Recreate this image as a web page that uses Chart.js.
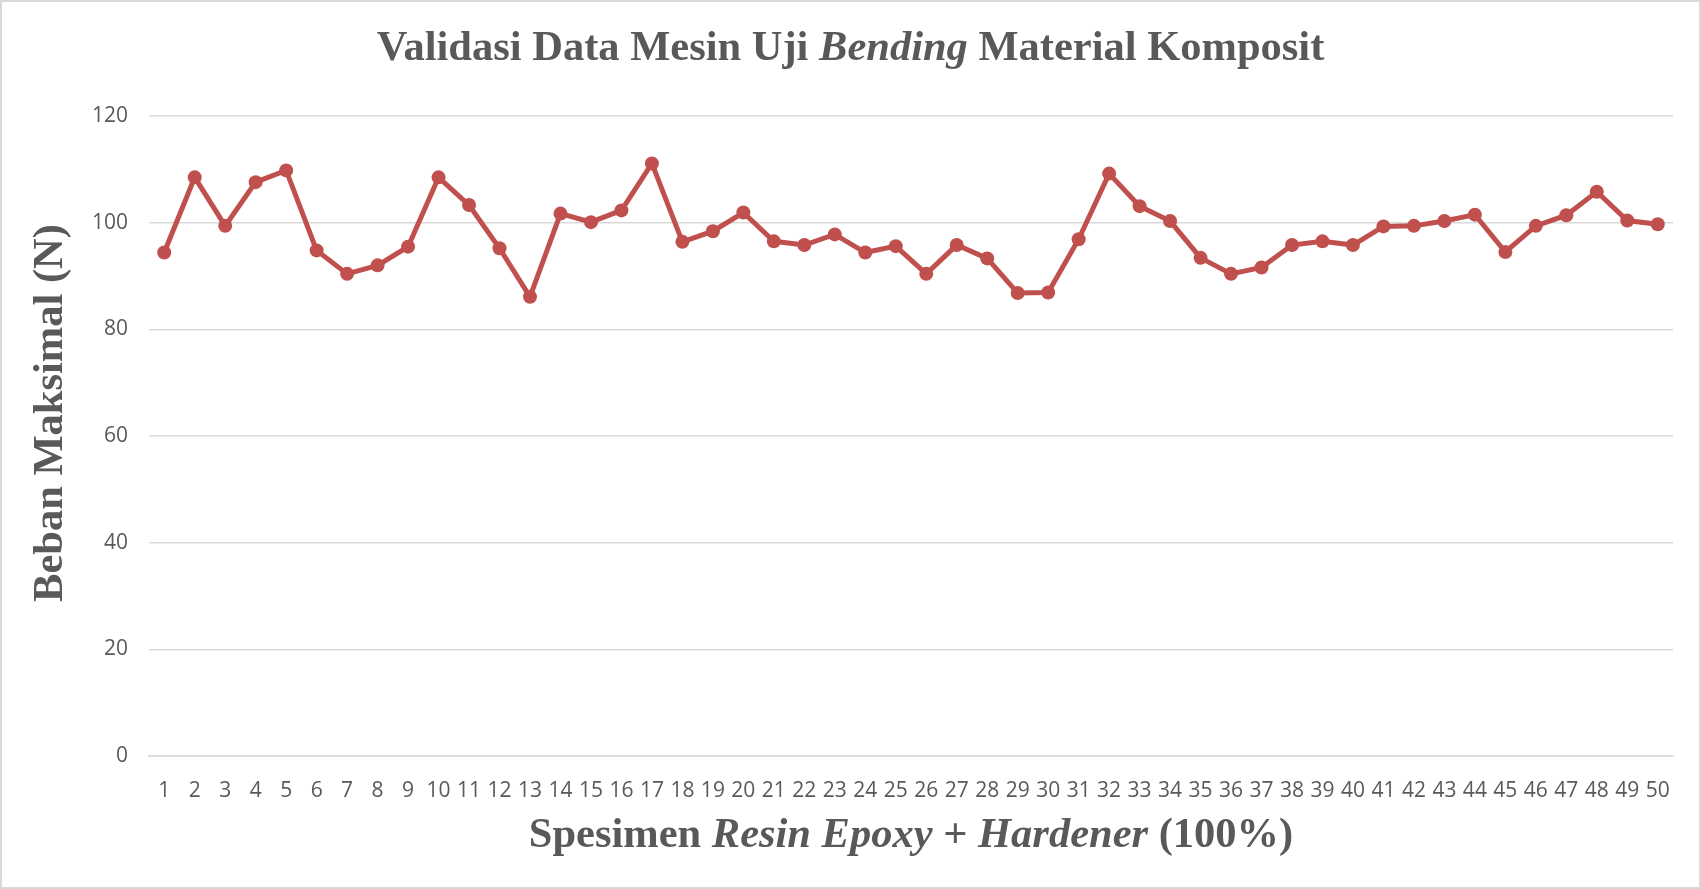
<!DOCTYPE html>
<html>
<head>
<meta charset="utf-8">
<title>Validasi Data Mesin Uji Bending</title>
<script src="https://cdn.jsdelivr.net/npm/chart.js@4/dist/chart.umd.min.js"></script>
<style>
    html, body { margin: 0; padding: 0; background: #fff; }
    #wrap {
        position: relative;
        width: 1701px;
        height: 889px;
        box-sizing: border-box;
        border: 2px solid #d9d9d9;
    }
    #bendingChart { display: block; }
</style>
</head>
<body>
<div id="wrap">
    <canvas id="bendingChart"></canvas>
</div>
<script>
// Specimen numbers on the x axis
const specimens = Array.from({ length: 50 }, (_, i) => String(i + 1));

// Maximum load per specimen (N)
const maxLoad = [
    94.4, 108.5, 99.4, 107.6, 109.8, 94.8, 90.4, 92.0, 95.5, 108.5,
    103.3, 95.2, 86.1, 101.7, 100.1, 102.3, 111.1, 96.4, 98.4, 101.9,
    96.5, 95.8, 97.8, 94.4, 95.6, 90.4, 95.8, 93.3, 86.8, 86.9,
    96.9, 109.2, 103.1, 100.3, 93.4, 90.4, 91.6, 95.8, 96.5, 95.8,
    99.3, 99.4, 100.3, 101.5, 94.5, 99.4, 101.4, 105.8, 100.4, 99.7
];

const yTicks = [0, 20, 40, 60, 80, 100, 120];

// Titles with mixed upright / italic parts
const mainTitle = [
    { text: 'Validasi Data Mesin Uji ', italic: false },
    { text: 'Bending', italic: true },
    { text: ' Material Komposit', italic: false }
];
const xTitle = [
    { text: 'Spesimen ', italic: false },
    { text: 'Resin Epoxy', italic: true },
    { text: ' + ', italic: false },
    { text: 'Hardener', italic: true },
    { text: ' (100%)', italic: false }
];
const yTitle = [{ text: 'Beban Maksimal (N)', italic: false }];

const TEXT_COLOR = '#595959';
const SERIF = '"Liberation Serif", "Times New Roman", serif';

/**
 * Draw a run of text parts centred on (cx, cy)
 */
function drawRuns(ctx, parts, cx, cy, size) {
    const fontFor = p => `${p.italic ? 'italic ' : ''}bold ${size}px ${SERIF}`;
    let total = 0;
    parts.forEach(p => {
        ctx.font = fontFor(p);
        total += ctx.measureText(p.text).width;
    });
    let x = cx - total / 2;
    ctx.textAlign = 'left';
    ctx.textBaseline = 'middle';
    ctx.fillStyle = TEXT_COLOR;
    parts.forEach(p => {
        ctx.font = fontFor(p);
        ctx.fillText(p.text, x, cy);
        x += ctx.measureText(p.text).width;
    });
}

const titlesPlugin = {
    id: 'mixedTitles',
    afterDraw(chart) {
        const ctx = chart.ctx;
        const area = chart.chartArea;
        ctx.save();
        drawRuns(ctx, mainTitle, chart.width / 2, 47, 42.5);
        drawRuns(ctx, xTitle, (area.left + area.right) / 2, 834, 42.5);
        ctx.translate(49, 411);
        ctx.rotate(-Math.PI / 2);
        drawRuns(ctx, yTitle, 0, 0, 42.5);
        ctx.restore();
    }
};

const canvas = document.getElementById('bendingChart');
canvas.width = 1697;
canvas.height = 885;

new Chart(canvas.getContext('2d'), {
    type: 'line',
    data: {
        labels: specimens,
        datasets: [{
            data: maxLoad,
            borderColor: '#c0504d',
            backgroundColor: '#c0504d',
            borderWidth: 5,
            pointRadius: 7,
            pointHoverRadius: 7,
            pointBorderWidth: 0,
            tension: 0
        }]
    },
    options: {
        responsive: false,
        animation: false,
        layout: { padding: { top: 114, right: 26, left: 0, bottom: 0 } },
        plugins: {
            legend: { display: false },
            title: { display: false },
            tooltip: { enabled: false }
        },
        scales: {
            x: {
                offset: true,
                afterFit(scale) { scale.height = 131; },
                grid: { display: false },
                border: { display: true, color: '#d9d9d9', width: 1.5 },
                ticks: {
                    autoSkip: false,
                    maxRotation: 0,
                    padding: 14,
                    color: TEXT_COLOR,
                    font: { family: '"Open Sans", sans-serif', size: 21 }
                }
            },
            y: {
                min: 0,
                max: 120,
                afterFit(scale) { scale.width = 147; },
                afterBuildTicks(scale) { scale.ticks = yTicks.map(v => ({ value: v })); },
                grid: { color: '#d9d9d9', lineWidth: 1.5, drawTicks: false },
                border: { display: false },
                ticks: {
                    padding: 21,
                    color: TEXT_COLOR,
                    font: { family: '"Open Sans", sans-serif', size: 21 }
                }
            }
        }
    },
    plugins: [titlesPlugin]
});
</script>
</body>
</html>
